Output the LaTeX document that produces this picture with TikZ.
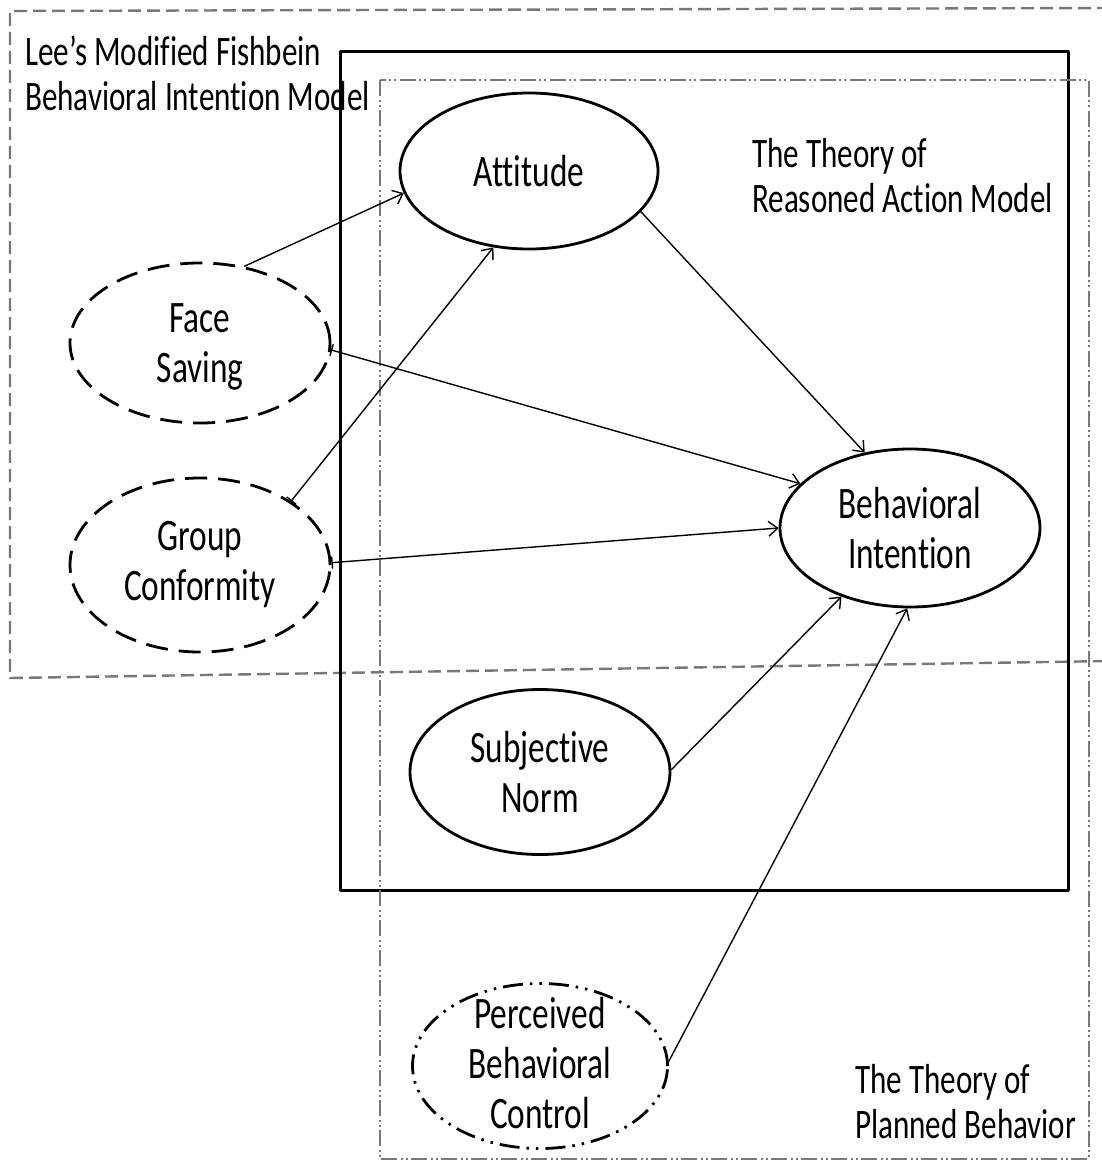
\documentclass[tikz,border=0pt]{standalone}
\usepackage{fontspec}
\setmainfont[FakeStretch=0.74,Ligatures=NoCommon]{Carlito}
\usetikzlibrary{shapes.geometric,arrows.meta}
\definecolor{frame}{HTML}{787878}
\begin{document}
\begin{tikzpicture}[x=1pt,y=-1pt,
  lbl/.style={font=\fontsize{42}{45}\selectfont, align=left, inner sep=0pt, anchor=base west},
  ovaltext/.style={font=\fontsize{45}{50}\selectfont, align=center, inner sep=0pt},
  construct/.style={ellipse, draw, line width=2.8pt, inner sep=0pt},
  added/.style={construct, dash pattern=on 22pt off 11pt},
  control/.style={construct, dash pattern=on 20pt off 7pt on 2.5pt off 7pt on 2.5pt off 7pt},
  link/.style={line width=1.4pt, -{Straight Barb[length=9pt,width=15pt,line width=1.4pt]}},
  barlink/.style={line width=1.4pt, {Bar[width=12pt,line width=1.4pt]}-{Straight Barb[length=9pt,width=15pt,line width=1.4pt]}}
]
\useasboundingbox (0,0) rectangle (1102,1165);
\clip (0,0) rectangle (1102,1165);
\fill[white] (0,0) rectangle (1102,1165);

% model frames
\draw[frame, line width=2.4pt, dash pattern=on 13pt off 6pt]
  (1110,8) -- (10,11) -- (10,678) -- (1110,661);
\draw[line width=3pt, line join=round] (340,51) rectangle (1068,890);
\draw[frame, line width=2.4pt, dash pattern=on 16pt off 4pt on 2pt off 3pt on 2pt off 3pt]
  (380,80) rectangle (1089,1159);

% frame titles (anchored at the baseline of the last line)
\node[lbl] (leeTitle) at (25,110) {Lee’s Modified Fishbein\\Behavioral Intention Model};
\node[lbl] (traTitle) at (752,212) {The Theory of\\Reasoned Action Model};
\node[lbl] (tpbTitle) at (855,1138) {The Theory of\\Planned Behavior};

% constructs
\node[construct, minimum width=258pt, minimum height=156pt,
      label={[ovaltext]center:Attitude}] (att) at (529,171) {};
\node[added, minimum width=260pt, minimum height=160pt,
      label={[ovaltext, yshift=-4pt]center:{Face\\Saving}}] (fs) at (200,343) {};
\node[added, minimum width=260pt, minimum height=174pt,
      label={[ovaltext]center:{Group\\Conformity}}] (gc) at (200,565) {};
\node[construct, minimum width=260pt, minimum height=158pt,
      label={[ovaltext]center:{Behavioral\\Intention}}] (bi) at (910,528) {};
\node[construct, minimum width=260pt, minimum height=165pt,
      label={[ovaltext]center:{Subjective\\Norm}}] (sn) at (540,772) {};
\node[control, minimum width=255pt, minimum height=165pt,
      label={[ovaltext, yshift=3pt]center:{Perceived\\Behavioral\\Control}}] (pbc) at (540,1066) {};

% paths
\draw[link] (fs.60) -- (att.190);
\draw[barlink] (gc.35) -- (att.245);
\draw[barlink] (fs.357) -- (bi.158);
\draw[barlink] (gc.1) -- (bi.180);
\draw[link] (att.340) -- (bi.121);
\draw[link] (sn.1) -- (bi.225);
\draw[link] (pbc.2) -- (bi.268);
\end{tikzpicture}
\end{document}
